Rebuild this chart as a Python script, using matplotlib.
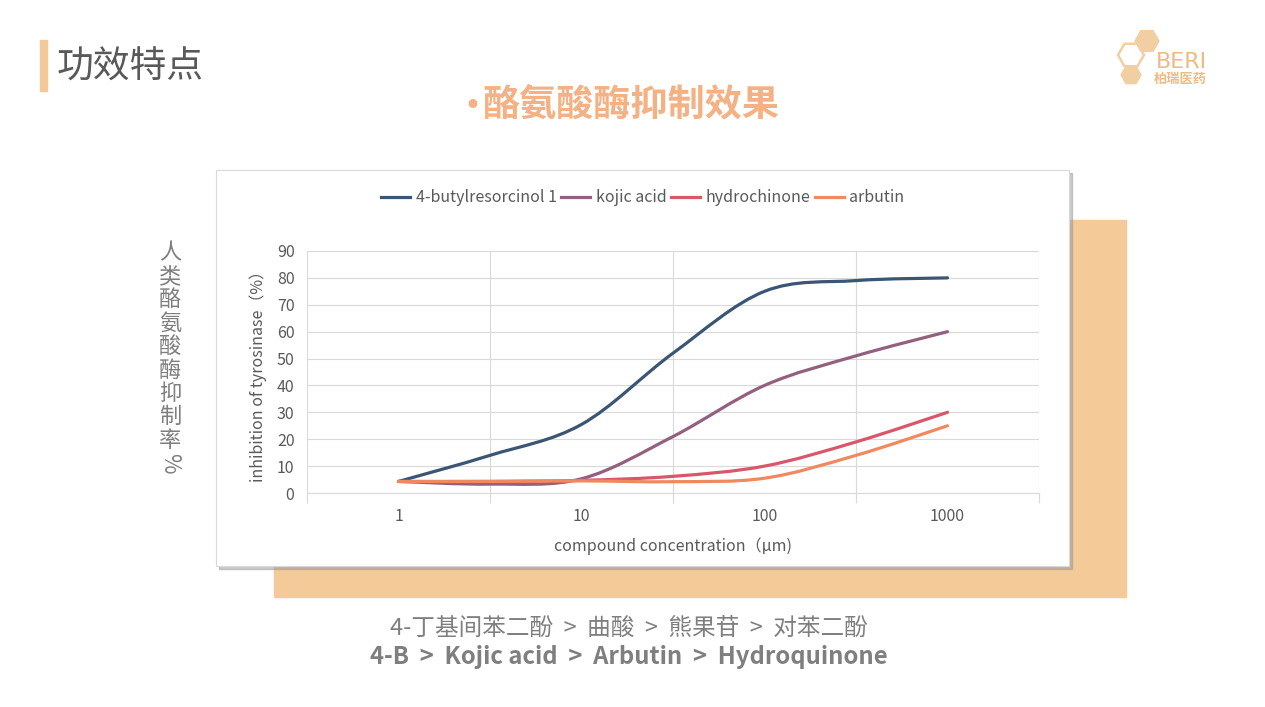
import matplotlib
matplotlib.use("Agg")
import matplotlib.pyplot as plt
import numpy as np
from matplotlib.patches import Rectangle, RegularPolygon, PathPatch
from matplotlib.path import Path
from matplotlib.lines import Line2D

plt.rcParams["font.family"] = ["Noto Sans CJK SC", "DejaVu Sans"]

# Data (x = category index on the chart, labels only on every other one)
categories = ["1", "", "10", "", "100", "", "1000"]
series_names = ["4-butylresorcinol 1", "kojic acid", "hydrochinone", "arbutin"]
butylresorcinol = [4.3, 14, 25.5, 52, 75, 79, 80]
kojic_acid = [4.3, 3.3, 5.3, 21, 40, 51, 60]
hydrochinone = [4.3, 4.3, 4.7, 6.2, 10, 19, 30]
arbutin = [4.3, 4.3, 4.5, 4.2, 5.5, 14, 25]
colors = ["#3A5674", "#93607F", "#D9566B", "#F0895F"]

W, H = 1265, 707
fig = plt.figure(figsize=(W / 100, H / 100), dpi=100)
fig.patch.set_facecolor("white")

# Slide background layer in pixel coordinates
bg = fig.add_axes([0, 0, 1, 1])
bg.set_xlim(0, W)
bg.set_ylim(H, 0)
bg.axis("off")

orange = "#F3CA98"
bg.add_patch(Rectangle((40, 40), 7, 51, color="#F4C99A"))
bg.text(57, 67, "功效特点", fontsize=26.5, color="#595959", va="center", ha="left")
bg.text(480, 106, "•", fontsize=18, color="#F4B183", fontweight="bold",
        va="center", ha="right", family=["DejaVu Sans"])
bg.text(482, 105, "酪氨酸酶抑制效果", fontsize=26.7, color="#F4B183",
        fontweight="bold", va="center", ha="left")

# logo
logo_c = "#F2CFA3"
bg.add_patch(RegularPolygon((1147, 41), 6, radius=12, orientation=np.pi / 6, color=logo_c))
bg.add_patch(RegularPolygon((1131, 55), 6, radius=13, orientation=np.pi / 6,
                            facecolor="none", edgecolor=logo_c, lw=1.8))
bg.add_patch(RegularPolygon((1131, 75), 6, radius=10, orientation=np.pi / 6, color=logo_c))
bg.text(1181, 62, "BERI", fontsize=16, color="#EDBB84", ha="center", va="center",
        family=["DejaVu Sans"])
bg.text(1180, 79, "柏瑞医药", fontsize=9.5, color="#EDBB84", ha="center", va="center",
        fontweight="bold")

# orange block behind the chart, shadow, white chart box
bg.add_patch(Rectangle((274, 220), 852, 377, color=orange, zorder=1))
bg.add_patch(Rectangle((219, 173), 853, 396, color="#9A9A9A", alpha=0.5, zorder=2))
bg.add_patch(Rectangle((216, 170), 853, 396, facecolor="white", edgecolor="#D9D9D9",
                       lw=0.8, zorder=3))

# vertical Chinese label, one character per row
side_label = "人类酪氨酸酶抑制率%"
for i, ch in enumerate(side_label):
    bg.text(170, 253 + 23.4 * i, ch, fontsize=16, color="#7F7F7F", ha="center",
            va="center", rotation=270 if ch == "%" else 0)

# bottom ranking text
bg.text(629, 628, "4-丁基间苯二酚  >  曲酸  >  熊果苷  >  对苯二酚", fontsize=17,
        color="#7F7F7F", ha="center", va="center")
bg.text(629, 657, "4-B  >  Kojic acid  >  Arbutin  >  Hydroquinone", fontsize=17.2,
        color="#7F7F7F", ha="center", va="center", fontweight="bold")

# Plot area
x0, x1, y0, y1 = 307, 1039, 251, 493
ax = fig.add_axes([x0 / W, 1 - y1 / H, (x1 - x0) / W, (y1 - y0) / H])
ax.set_facecolor("none")
ax.set_zorder(5)
ax.set_xlim(-1, 7)
ax.set_ylim(0, 90)

grid_c = "#D9D9D9"
text_c = "#595959"
ax.set_yticks(np.arange(0, 91, 10))
ax.tick_params(axis="y", length=0, pad=9, labelsize=11.5, labelcolor=text_c)
ax.set_xticks(np.arange(-1, 8, 2))
ax.set_xticklabels([])
ax.tick_params(axis="x", which="major", length=7, color=grid_c, width=0.8)
ax.set_xticks([i for i, c in enumerate(categories) if c], minor=True)
ax.set_xticklabels([c for c in categories if c], minor=True)
ax.tick_params(axis="x", which="minor", length=0, pad=11, labelsize=11.5, labelcolor=text_c)
ax.grid(True, which="major", color=grid_c, lw=0.8)
for s in ["top", "right", "left"]:
    ax.spines[s].set_visible(False)
ax.spines["bottom"].set_color(grid_c)
ax.spines["bottom"].set_linewidth(0.8)

ax.set_ylabel("inhibition of tyrosinase（%）", fontsize=11.5, color=text_c, labelpad=7)
ax.set_xlabel("compound concentration（μm)", fontsize=11.5, color=text_c, labelpad=9)


def smooth_path(xs, ys):
    # Bezier curve through the points, like a spreadsheet "smoothed line"
    pts = np.column_stack([xs, ys]).astype(float)
    n = len(pts)
    verts = [pts[0]]
    codes = [Path.MOVETO]
    for i in range(n - 1):
        p_prev = pts[max(i - 1, 0)]
        p0, p1 = pts[i], pts[i + 1]
        p_next = pts[min(i + 2, n - 1)]
        c1 = p0 + (p1 - p_prev) / 6
        c2 = p1 - (p_next - p0) / 6
        verts += [c1, c2, p1]
        codes += [Path.CURVE4] * 3
    return Path(verts, codes)


xs = np.arange(len(categories))
all_series = [butylresorcinol, kojic_acid, hydrochinone, arbutin]
for ys, c in zip(all_series, colors):
    ax.add_patch(PathPatch(smooth_path(xs, ys), facecolor="none", edgecolor=c,
                           lw=2.3, capstyle="round", zorder=3))

handles = [Line2D([], [], color=c, lw=2.3) for c in colors]
fig.legend(handles, series_names, loc="center", bbox_to_anchor=(643 / W, 1 - 198 / H),
           ncol=4, frameon=False, fontsize=11.5, labelcolor=text_c, handlelength=1.8,
           handletextpad=0.35, columnspacing=0.3)

fig.savefig("out.png", dpi=100)
